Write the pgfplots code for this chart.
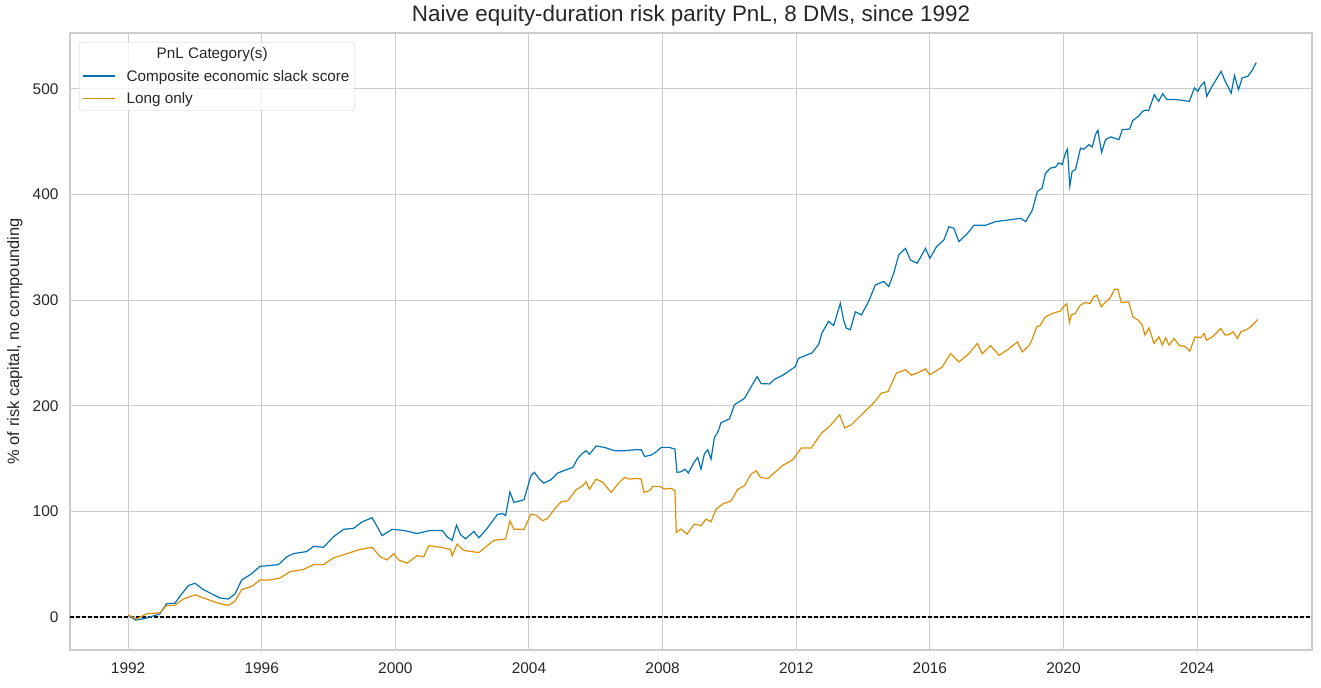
\documentclass[border=0pt]{standalone}
\usepackage{fontspec}
\setmainfont{Liberation Sans}
\usepackage{pgfplots}
\pgfplotsset{compat=1.18}
\definecolor{cblue}{HTML}{0173B2}
\definecolor{corange}{HTML}{DE8F05}
\definecolor{gridgray}{HTML}{CCCCCC}
\definecolor{txt}{HTML}{262626}

\begin{document}
\begin{tikzpicture}
\begin{axis}[
  scale only axis, width=1242bp, height=617bp,
  xmin=1990.26, xmax=2027.44, ymin=-31.25, ymax=553,
  xtick={1992,1996,...,2024}, ytick={0,100,...,500},
  grid=major, major grid style={gridgray, line width=1bp},
  axis line style={gridgray, line width=1.4bp},
  major tick length=0,
  /pgf/number format/assume math mode=true,
  tick label style={font=\fontsize{15.5}{18}\selectfont, text=txt},
  xticklabel style={/pgf/number format/1000 sep=, yshift=-9bp},
  yticklabel style={xshift=-8bp},
  title={Naive equity-duration risk parity PnL, 8 DMs, since 1992},
  title style={font=\fontsize{22.5}{26}\selectfont, text=txt, at={(0.5,1)}, anchor=base, yshift=6bp},
  ylabel={\% of risk capital, no compounding},
  ylabel style={font=\fontsize{16.5}{19}\selectfont, text=txt, at={(axis description cs:-0.0443,0.5)}, anchor=center},
  legend image code/.code={\draw[#1, line width=1.5bp] (0bp,0bp) -- (32bp,0bp);},
  legend cell align=left,
  legend style={at={(axis description cs:0.00725,0.9854)}, anchor=north west,
    draw=gridgray, rounded corners=3bp, fill=white, fill opacity=0.8, text opacity=1,
    font=\fontsize{15.3}{18}\selectfont, text=txt,
    inner xsep=3bp, inner ysep=3.75bp, row sep=5.5bp,
    /tikz/every odd column/.append style={column sep=9bp}},
]
\addlegendimage{empty legend}
\addlegendentry{\hspace{30bp}PnL Category(s)}

\addplot[black, line width=1.2bp, dash pattern=on 4bp off 2bp, forget plot]
  coordinates {(1990.26,0) (2027.44,0)};

% Composite economic slack score
\addplot[cblue, line width=1.2bp] coordinates {
(1992.0,1.6) (1992.23,-3) (1992.55,-1) (1992.95,3) (1993.15,12.6) (1993.4,13)
(1993.55,19.6) (1993.8,29.7) (1994.0,32) (1994.25,26) (1994.5,22) (1994.75,18)
(1995.0,17) (1995.2,22) (1995.4,35) (1995.7,41) (1995.95,48) (1996.2,48.6)
(1996.5,49.6) (1996.75,57) (1996.95,60) (1997.35,62) (1997.55,67) (1997.85,66)
(1998.15,76) (1998.45,83) (1998.75,84) (1999.0,90) (1999.3,94) (1999.45,86)
(1999.6,77) (1999.9,83) (2000.25,82) (2000.65,79) (2001.05,82) (2001.4,82)
(2001.55,76) (2001.7,72.6) (2001.83,87) (2001.95,78) (2002.1,74) (2002.35,81)
(2002.5,75) (2002.75,84) (2003.05,97) (2003.2,98) (2003.3,96) (2003.43,118.5)
(2003.55,108.5) (2003.85,111)
(2004.06,133.8) (2004.16,137) (2004.31,130.6) (2004.44,126.8) (2004.66,130) (2004.86,136.3)
(2005.11,139.4) (2005.31,141.6) (2005.46,150.2) (2005.61,155.2) (2005.71,157.4) (2005.81,154)
(2006.01,162) (2006.26,160.6) (2006.56,157.4) (2006.86,157.4) (2007.16,158.4) (2007.36,158.4)
(2007.46,152) (2007.66,153.3) (2007.81,156.5) (2007.96,160.6) (2008.2,160.6) (2008.37,159)
(2008.43,137) (2008.55,137.5) (2008.67,140) (2008.77,136.3) (2008.95,147) (2009.05,151)
(2009.15,140) (2009.25,154.3) (2009.35,158.4) (2009.45,149.5) (2009.55,170) (2009.65,174.8)
(2009.75,184) (2010.0,187.6)
(2010.15,201) (2010.45,207) (2010.65,218) (2010.83,227.6) (2010.95,221) (2011.2,220.7)
(2011.35,225) (2011.6,229) (2011.97,237) (2012.07,245) (2012.47,250) (2012.67,258)
(2012.77,269) (2012.97,280) (2013.12,276) (2013.32,297) (2013.42,281) (2013.5,273.5)
(2013.62,272) (2013.77,289) (2013.95,286) (2014.17,299) (2014.37,314.5) (2014.62,317.7)
(2014.77,313) (2014.92,325.6) (2015.07,343) (2015.27,349) (2015.42,338) (2015.62,335)
(2015.87,349) (2016.0,339.6) (2016.2,350.6) (2016.42,357) (2016.57,369.6) (2016.72,368)
(2016.87,355.4) (2017.12,363) (2017.32,371) (2017.67,371) (2017.97,374.4) (2018.37,376)
(2018.72,377.5) (2018.87,374.4) (2019.07,385.4) (2019.22,403)
(2019.36,406) (2019.46,420) (2019.61,425) (2019.76,426) (2019.86,430) (2019.96,428.4)
(2020.06,439.4) (2020.12,443) (2020.19,408) (2020.26,422) (2020.36,423.7) (2020.51,444)
(2020.61,443) (2020.76,447.3) (2020.86,445) (2020.96,456.8) (2021.03,461) (2021.14,440)
(2021.26,452) (2021.41,454.6) (2021.51,453.6) (2021.66,452) (2021.76,461.5) (2021.98,462)
(2022.07,470) (2022.27,474.8) (2022.37,478.9) (2022.47,480) (2022.55,479.5) (2022.72,494.6)
(2022.85,488.3) (2022.97,495.6) (2023.09,490) (2023.37,490) (2023.77,488.3) (2023.92,501)
(2024.02,497.8) (2024.1,502.5) (2024.22,506.6) (2024.29,493) (2024.42,501) (2024.57,508.8)
(2024.72,516.7) (2024.82,508.8) (2024.92,502.5) (2025.02,496) (2025.12,512.6) (2025.24,499.4)
(2025.35,510.4) (2025.52,512) (2025.65,517.7) (2025.77,525)
};
\addlegendentry{Composite economic slack score}

% Long only
\addplot[corange, line width=1.2bp] coordinates {
(1992.0,2) (1992.25,-2) (1992.55,3) (1992.95,4) (1993.15,11) (1993.4,11)
(1993.65,17) (1994.0,21) (1994.35,17) (1994.7,13) (1995.0,11) (1995.2,15)
(1995.4,26) (1995.7,29) (1995.95,35) (1996.25,35) (1996.55,37) (1996.85,43)
(1997.25,45) (1997.55,49.6) (1997.85,49.6) (1998.15,56) (1998.55,60) (1998.95,64)
(1999.3,66) (1999.55,57) (1999.75,54) (1999.95,60) (2000.1,54) (2000.35,51)
(2000.65,58) (2000.85,57) (2001.0,67.5) (2001.35,66) (2001.65,64) (2001.7,58)
(2001.85,69) (2002.05,63) (2002.5,61) (2002.75,67.5) (2002.95,72.6) (2003.3,74)
(2003.43,91) (2003.55,83) (2003.85,83)
(2004.06,97.5) (2004.21,96.5) (2004.41,91.2) (2004.56,93.4) (2004.76,102.2) (2004.96,109)
(2005.16,110) (2005.41,120.5) (2005.61,124.3) (2005.71,128) (2005.81,121) (2006.01,130.6)
(2006.21,127.4) (2006.46,118) (2006.66,125.9) (2006.86,132.2) (2007.01,130.6) (2007.21,131.2)
(2007.36,130.6) (2007.44,118) (2007.61,119.6) (2007.71,123.7) (2007.91,123.7) (2008.06,121.1)
(2008.26,121.8) (2008.37,119.6) (2008.41,80.1) (2008.55,83.3) (2008.73,78.5) (2008.95,88)
(2009.15,86.4) (2009.3,92.7) (2009.45,90.2) (2009.6,102.2) (2009.8,107) (2010.05,110)
(2010.25,121) (2010.45,124.3) (2010.65,135.3) (2010.8,138.5) (2010.93,132.2)
(2011.15,131) (2011.35,136.7)
(2011.6,143.6) (2011.9,149) (2012.15,160) (2012.45,160) (2012.75,174) (2013.0,180.6)
(2013.3,191.5) (2013.45,179) (2013.65,182) (2013.95,191.5) (2014.3,202) (2014.55,212)
(2014.75,213.5) (2015.0,231) (2015.27,234) (2015.45,229) (2015.62,231) (2015.87,235)
(2016.0,229.4) (2016.37,236.7) (2016.62,249.4) (2016.87,241.5) (2017.17,249.4) (2017.42,259)
(2017.57,249.4) (2017.82,257) (2018.07,247.8) (2018.37,254) (2018.62,260.4) (2018.77,251)
(2018.97,257)
(2019.05,262) (2019.2,274.8) (2019.3,276) (2019.45,284) (2019.6,286.4) (2019.75,288.3)
(2019.9,289.6) (2020.0,293.7) (2020.1,296.8) (2020.18,278.9) (2020.23,285.8) (2020.35,287.4)
(2020.5,295.3) (2020.65,297.8) (2020.8,296.8) (2020.9,303) (2021.0,304.7) (2021.13,293.7)
(2021.25,297.8) (2021.4,302.2) (2021.53,310.4) (2021.63,310.4) (2021.73,297.8) (2021.95,298.4)
(2022.08,284.2) (2022.24,281) (2022.36,276.3) (2022.44,266.9) (2022.56,273.8) (2022.71,259)
(2022.86,265.3) (2022.96,257.4) (2023.06,264.4) (2023.16,257.4) (2023.31,263.7) (2023.46,257.4)
(2023.66,255.8) (2023.78,251.7) (2023.94,265.3) (2024.11,264.4) (2024.21,268.5) (2024.28,262.1)
(2024.46,265.3) (2024.71,273.2) (2024.84,266.9) (2024.96,267.5) (2025.08,270) (2025.21,263.7)
(2025.31,270) (2025.51,272.6) (2025.66,276.3) (2025.81,281.7)
};
\addlegendentry{Long only}
\end{axis}
\path (current axis.south west) ++(-70bp,-38bp) rectangle ++(1321bp,688bp);
\end{tikzpicture}
\end{document}
